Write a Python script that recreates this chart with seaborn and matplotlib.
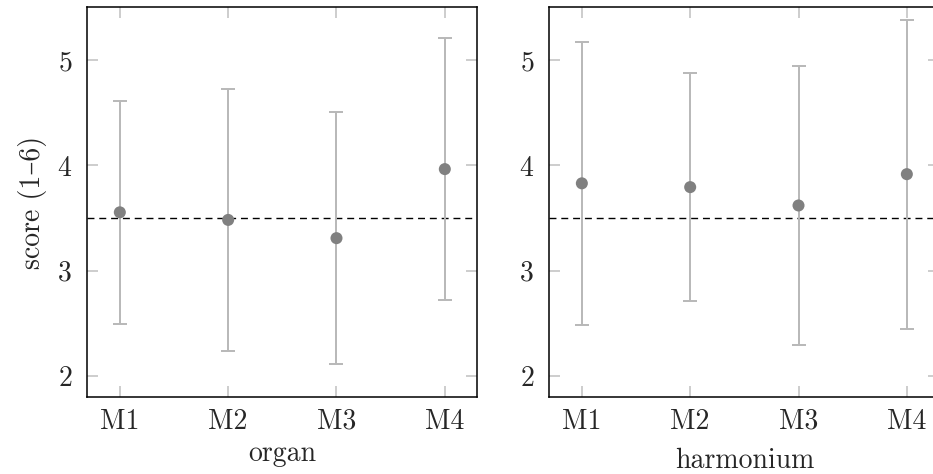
import pandas as pd
import matplotlib
matplotlib.use("Agg")
import matplotlib.pyplot as plt
import seaborn as sns

# Data (mean score and standard deviation per model)
models = ["M1", "M2", "M3", "M4"]
organ_mean = [3.555, 3.483, 3.31, 3.965]
organ_sd = [1.055, 1.244, 1.197, 1.242]
harm_mean = [3.83, 3.794, 3.62, 3.917]
harm_sd = [1.34, 1.083, 1.32, 1.465]
ref_line = 3.5

sns.set_style("ticks")
plt.rcParams['font.family'] = ['cmr10', 'DejaVu Serif']
plt.rcParams['font.size'] = 20
plt.rcParams['axes.formatter.use_mathtext'] = True

fig = plt.figure(figsize=(9.33, 4.74), dpi=100)
ax1 = fig.add_axes([0.0936, 0.1618, 0.418, 0.8228])
ax2 = fig.add_axes([0.5888, 0.1618, 0.418, 0.8228])

panels = [
    (ax1, organ_mean, organ_sd, "organ", 4),
    (ax2, harm_mean, harm_sd, "harmonium", 9),
]

for ax, mean, sd, name, lpad in panels:
    df = pd.DataFrame({"model": models, "mean": mean, "sd": sd})
    ax.errorbar(df["model"], df["mean"], yerr=df["sd"], fmt="none",
                ecolor="#b8b8b8", elinewidth=1.4, capsize=5, capthick=1.4,
                zorder=2)
    sns.scatterplot(data=df, x="model", y="mean", ax=ax, color="#808080",
                    s=75, edgecolor="none", zorder=3)
    ax.axhline(ref_line, color="black", lw=1, ls=(0, (5, 3.5)), zorder=1)
    ax.set_xlim(-0.3, 3.3)
    ax.set_ylim(1.8, 5.5)
    ax.set_yticks([2, 3, 4, 5])
    ax.tick_params(direction="in", length=8, width=1.1, color="#c0c0c0",
                   top=True, right=True, labelsize=20)
    ax.tick_params(axis="x", pad=8)
    ax.tick_params(axis="y", pad=11)
    for s in ax.spines.values():
        s.set_color("black")
        s.set_linewidth(1.1)
    ax.set_xlabel(name, fontsize=20, labelpad=lpad)
    ax.set_ylabel("")

ax1.set_ylabel("score (1–6)", fontsize=20, labelpad=7)

fig.savefig("out.png", dpi=100)
